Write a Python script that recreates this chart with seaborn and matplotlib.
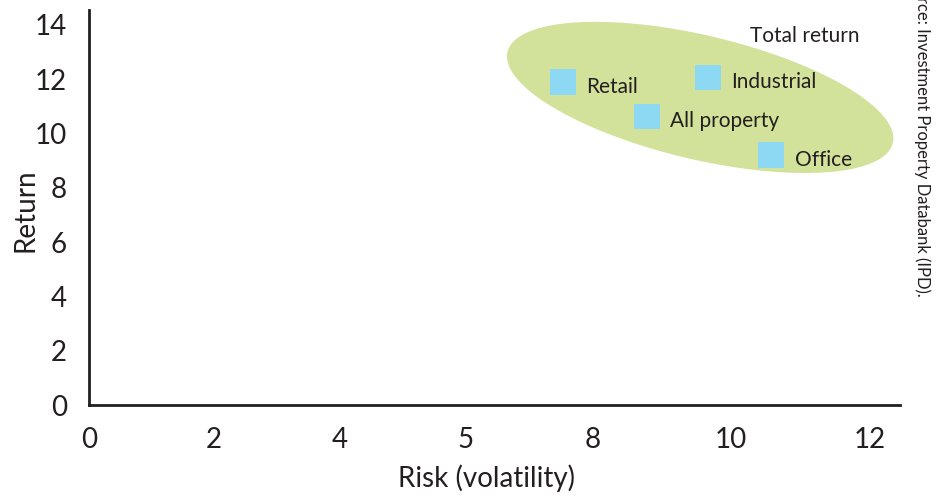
import numpy as np
import pandas as pd
import matplotlib
matplotlib.use("Agg")
import matplotlib.pyplot as plt
import seaborn as sns

# ---- data ----
sectors = ["Retail", "Industrial", "All property", "Office"]
risk = [7.28, 9.51, 8.57, 10.48]
ret = [11.9, 12.06, 10.63, 9.21]

x_tick_pos = [0, 1.92, 3.86, 5.79, 7.74, 9.86, 12]
x_tick_labels = ["0", "2", "4", "5", "8", "10", "12"]
y_ticks = [0, 2, 4, 6, 8, 10, 12, 14]

df = pd.DataFrame({"sector": sectors, "risk": risk, "ret": ret})

sns.set_style("white")
plt.rcParams["font.family"] = ["Lato", "DejaVu Sans"]

W, H = 946, 497
fig = plt.figure(figsize=(W / 100, H / 100), dpi=100)
ax_l, ax_r, ax_t, ax_b = 89, 900, 10, 405
ax = fig.add_axes([ax_l / W, (H - ax_b) / H, (ax_r - ax_l) / W, (ax_b - ax_t) / H])
xmax, ymax = 12.46, 14.55
ax.set_xlim(0, xmax)
ax.set_ylim(0, ymax)
sx = (ax_r - ax_l) / xmax  # px per x unit
sy = (ax_b - ax_t) / ymax  # px per y unit

# ellipse highlighting the total-return cluster (defined in pixel space)
cx, cy = 9.39, 11.33
a_px, b_px, ang = 198, 62, np.deg2rad(-13.3)
t = np.linspace(0, 2 * np.pi, 300)
px = a_px * np.cos(t) * np.cos(ang) - b_px * np.sin(t) * np.sin(ang)
py = a_px * np.cos(t) * np.sin(ang) + b_px * np.sin(t) * np.cos(ang)
ax.fill(cx + px / sx, cy + py / sy, color="#d2e29b", lw=0, zorder=1)

sns.scatterplot(data=df, x="risk", y="ret", marker="s", s=340, color="#8dd9f3",
                edgecolor="none", ax=ax, zorder=3, legend=False)

for s, xv, yv in zip(df["sector"], df["risk"], df["ret"]):
    ax.annotate(s, (xv, yv), xytext=(17, -3.5), textcoords="offset points",
                ha="left", va="center", fontsize=15, color="#231f20", zorder=4)

ax.text(11.0, 13.6, "Total return", ha="center", va="center", fontsize=15,
        color="#231f20")

ax.set_xticks(x_tick_pos)
ax.set_xticklabels(x_tick_labels)
ax.set_yticks(y_ticks)
ax.tick_params(axis="both", length=0, labelsize=20, colors="#231f20")
ax.tick_params(axis="x", pad=16)
ax.tick_params(axis="y", pad=16)
ax.set_xlabel("Risk (volatility)", fontsize=20, color="#231f20")
ax.set_ylabel("Return", fontsize=20, color="#231f20")
ax.xaxis.set_label_coords((486 - ax_l) / (ax_r - ax_l), -(478 - ax_b) / (ax_b - ax_t))
ax.yaxis.set_label_coords(-(ax_l - 25) / (ax_r - ax_l), (ax_b - 210) / (ax_b - ax_t))
ax.xaxis.label.set_va("center")
ax.yaxis.label.set_va("center")

sns.despine(ax=ax)
for sp in ["left", "bottom"]:
    ax.spines[sp].set_color("#231f20")
    ax.spines[sp].set_linewidth(2)

fig.text(922 / W, 1 - 297 / H, "Source: Investment Property Databank (IPD).",
         rotation=-90, ha="center", va="bottom", fontsize=12.0, color="#231f20")

fig.savefig("out.png", dpi=100)
